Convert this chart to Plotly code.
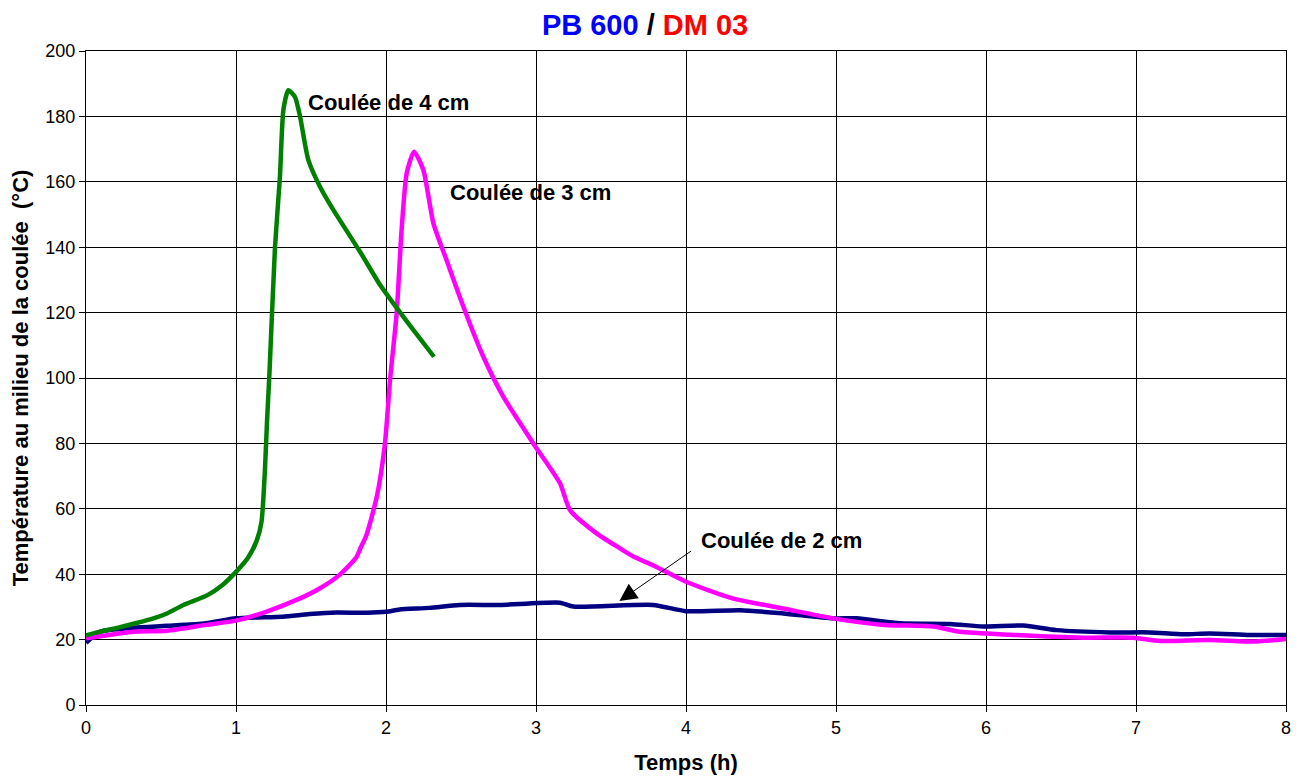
import plotly.graph_objects as go

# Coulée de 4 cm (green)
t_4cm = [0, 0.1, 0.2, 0.33, 0.45, 0.54, 0.65, 0.81, 0.91, 1.0, 1.08, 1.14, 1.17, 1.193, 1.207,
         1.222, 1.26, 1.293, 1.316, 1.349, 1.393, 1.427, 1.482, 1.56, 1.649, 1.827, 1.96, 2.049,
         2.182, 2.32]
T_4cm = [21.3, 22.5, 23.5, 25, 26.5, 28, 30.6, 33.6, 36.7, 40.7, 45, 50.5, 56, 72, 87,
         100.4, 140, 161.6, 182, 188, 186, 180, 166.7, 158.5, 151.4, 138.6, 128.5, 122.8,
         114.7, 106.5]

# Coulée de 3 cm (magenta)
t_3cm = [0, 0.316, 0.54, 0.80, 1.0, 1.2, 1.427, 1.56, 1.69, 1.80, 1.83, 1.87, 1.94, 1.993, 2.027,
         2.071, 2.104, 2.138, 2.187, 2.249, 2.316, 2.404, 2.516, 2.649, 2.782, 2.982, 3.16,
         3.227, 3.404, 3.56, 3.649, 3.80, 4.0, 4.31, 4.649, 4.98, 5.32, 5.649, 5.827, 6.16,
         6.649, 6.98, 7.16, 7.49, 7.8, 8.0]
T_3cm = [20.4, 22.4, 22.7, 24.5, 25.8, 28.5, 32.6, 35.7, 39.8, 45, 48, 52, 64, 80, 99.4,
         119.8, 145.3, 162.6, 169.2, 163.6, 147.3, 136, 121.8, 106.5, 94.3, 80, 67.8,
         59.6, 52.5, 47.9, 45.4, 42.3, 37.7, 32.6, 29.5, 26.5, 24.5, 24, 22.4, 21.5,
         20.6, 20.6, 19.6, 19.9, 19.4, 20.2]

# Coulée de 2 cm (navy)
t_2cm = [0, 0.093, 0.316, 0.54, 0.8, 1.0, 1.31, 1.49, 1.67, 1.87, 2.0, 2.09, 2.29, 2.49, 2.76,
         3.16, 3.249, 3.78, 4.0, 4.36, 4.649, 4.98, 5.138, 5.427, 5.76, 5.98, 6.249, 6.47,
         6.827, 7.09, 7.316, 7.49, 7.76, 8.0]
T_2cm = [19, 22.4, 23.6, 24.2, 25, 26.5, 27, 27.8, 28.3, 28.2, 28.5, 29.2, 29.7, 30.6, 30.6,
         31.3, 30.1, 30.6, 28.7, 29.0, 28, 26.5, 26.5, 25, 24.8, 24, 24.3, 22.9,
         22.2, 22.2, 21.6, 21.9, 21.4, 21.4]

x_ticks = [0, 1, 2, 3, 4, 5, 6, 7, 8]
y_ticks = [0, 20, 40, 60, 80, 100, 120, 140, 160, 180, 200]

labels = ["Coulée de 4 cm", "Coulée de 3 cm", "Coulée de 2 cm"]
label_x = [1.467, 2.413, 4.087]
label_y = [184.1, 156.6, 50.2]
arrow_head = (3.556, 31.8)
arrow_tail = (4.044, 47.4)

FONT = "Liberation Sans, Arial, sans-serif"

fig = go.Figure()
fig.add_trace(go.Scatter(x=t_2cm, y=T_2cm, mode="lines", name="2 cm",
                         line=dict(color="#000080", width=4.5, shape="spline", smoothing=0.6)))
fig.add_trace(go.Scatter(x=t_3cm, y=T_3cm, mode="lines", name="3 cm",
                         line=dict(color="#FF00FF", width=4.5, shape="spline", smoothing=0.6)))
fig.add_trace(go.Scatter(x=t_4cm, y=T_4cm, mode="lines", name="4 cm",
                         line=dict(color="#008000", width=4.5, shape="spline", smoothing=0.6)))

for txt, lx, ly in zip(labels, label_x, label_y):
    fig.add_annotation(x=lx, y=ly, xref="x", yref="y", text="<b>%s</b>" % txt,
                       showarrow=False, xanchor="left", yanchor="middle",
                       font=dict(family=FONT, size=22, color="black"))

fig.add_annotation(x=arrow_head[0], y=arrow_head[1], xref="x", yref="y",
                   ax=arrow_tail[0], ay=arrow_tail[1], axref="x", ayref="y",
                   text="", showarrow=True, arrowhead=2, arrowsize=3.5, arrowwidth=1,
                   arrowcolor="black")

fig.update_layout(
    width=1293, height=772,
    margin=dict(l=78, r=15, t=43, b=75, autoexpand=False),
    paper_bgcolor="white", plot_bgcolor="white",
    showlegend=False,
    title=dict(text="<b><span style='color:#0000FF'>PB 600</span> / <span style='color:#FF0000'>DM 03</span></b>",
               x=0.4927, xanchor="center", y=0.978, yanchor="middle",
               font=dict(family=FONT, size=29, color="black")),
    font=dict(family=FONT, color="black"),
)
fig.update_xaxes(range=[0, 8], tickvals=x_ticks, ticks="outside", ticklen=6, tickcolor="black",
                 showgrid=True, gridcolor="black", gridwidth=1, automargin=False,
                 showline=True, linecolor="black", linewidth=1, mirror=True, zeroline=False,
                 tickfont=dict(family=FONT, size=18, color="black"),
                 title=dict(text="<b>Temps (h)</b>", font=dict(family=FONT, size=22), standoff=18))
fig.update_yaxes(range=[0, 200], tickvals=y_ticks, ticks="outside", ticklen=6, tickcolor="black",
                 showgrid=True, gridcolor="black", gridwidth=1, automargin=False,
                 showline=True, linecolor="black", linewidth=1, mirror=True, zeroline=False,
                 tickfont=dict(family=FONT, size=18, color="black"),
                 title=dict(text="<b>Température au milieu de la coulée  (°C)</b>",
                            font=dict(family=FONT, size=22), standoff=12))

fig.write_html("out.html")
